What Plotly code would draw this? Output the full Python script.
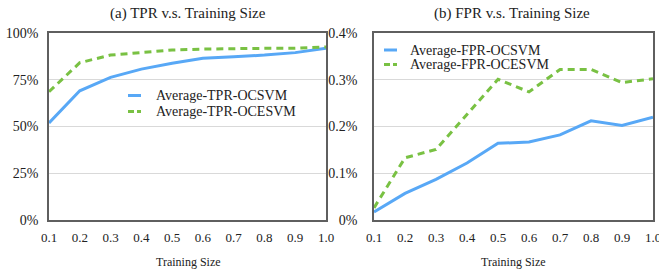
import plotly.graph_objects as go

W, H = 659, 272

train_size = [0.1, 0.2, 0.3, 0.4, 0.5, 0.6, 0.7, 0.8, 0.9, 1.0]
tpr_ocsvm = [51.9, 69.1, 76.3, 80.7, 83.8, 86.5, 87.3, 88.2, 89.5, 91.8]
tpr_ocesvm = [68.6, 84.1, 88.2, 89.5, 90.9, 91.4, 91.8, 91.8, 91.8, 92.5]
fpr_ocsvm = [0.017, 0.057, 0.087, 0.122, 0.164, 0.167, 0.182, 0.212, 0.202, 0.220]
fpr_ocesvm = [0.026, 0.133, 0.151, 0.225, 0.301, 0.274, 0.322, 0.322, 0.294, 0.302]

tpr_ticks = [0, 25, 50, 75, 100]
tpr_ticklabels = ["0%", "25%", "50%", "75%", "100%"]
fpr_ticks = [0, 0.1, 0.2, 0.3, 0.4]
fpr_ticklabels = ["0%", "0.1%", "0.2%", "0.3%", "0.4%"]
x_ticks = train_size
x_ticklabels = ["%.1f" % v for v in train_size]

series_names = ["Average-TPR-OCSVM", "Average-TPR-OCESVM", "Average-FPR-OCSVM", "Average-FPR-OCESVM"]

BLUE = "#58a8f6"
GREEN = "#79c143"
FONT = "Times New Roman, Liberation Serif, Tinos, serif"
FRAME = "#5f5f5f"
GRID = "#d9d9d9"
TXT = "#222"
DASH = "7px,5px"

def px(x):
    return x / W

def py(y):
    return 1 - y / H

fig = go.Figure()

fig.add_trace(go.Scatter(x=train_size, y=tpr_ocsvm, mode="lines", name=series_names[0],
                         line=dict(color=BLUE, width=3), xaxis="x", yaxis="y"))
fig.add_trace(go.Scatter(x=train_size, y=tpr_ocesvm, mode="lines", name=series_names[1],
                         line=dict(color=GREEN, width=3, dash=DASH), xaxis="x", yaxis="y"))
fig.add_trace(go.Scatter(x=train_size, y=fpr_ocsvm, mode="lines", name=series_names[2],
                         line=dict(color=BLUE, width=3), xaxis="x2", yaxis="y2"))
fig.add_trace(go.Scatter(x=train_size, y=fpr_ocesvm, mode="lines", name=series_names[3],
                         line=dict(color=GREEN, width=3, dash=DASH), xaxis="x2", yaxis="y2"))

xcommon = dict(range=[0.1, 1.0], tickvals=x_ticks, ticktext=x_ticklabels, showgrid=False,
               zeroline=False, showline=True, linecolor=FRAME, linewidth=1.5, mirror=True,
               ticks="", ticklabelstandoff=5, tickfont=dict(family=FONT, size=13, color=TXT),
               automargin=False, ticklabeloverflow="allow")
ycommon = dict(showgrid=True, gridcolor=GRID, gridwidth=1, zeroline=False, showline=True,
               linecolor=FRAME, linewidth=1.5, mirror=True, ticks="",
               tickfont=dict(family=FONT, size=14, color=TXT), automargin=False)

# hand-drawn legends (sample line + label), positioned in paper pixels
legend_items = [
    (series_names[0], BLUE, "solid", 128, 141, 154, 95.5),
    (series_names[1], GREEN, "6px,3px", 128, 141, 154, 111.5),
    (series_names[2], BLUE, "solid", 384, 397, 408, 50),
    (series_names[3], GREEN, "6px,3px", 384, 397, 408, 64.5),
]
shapes = []
annotations = []
for name, col, dash, x0, x1, xt, yc in legend_items:
    shapes.append(dict(type="line", xref="paper", yref="paper", x0=px(x0), x1=px(x1),
                       y0=py(yc), y1=py(yc), line=dict(color=col, width=3, dash=dash)))
    annotations.append(dict(text=name, x=px(xt), y=py(yc), xref="paper", yref="paper",
                            showarrow=False, xanchor="left", yanchor="middle",
                            font=dict(family=FONT, size=14, color=TXT)))

for text, xc, yc, size in [("(a) TPR v.s. Training Size", 188, 13, 15),
                           ("(b) FPR v.s. Training Size", 512, 13, 15),
                           ("Training Size", 188, 262, 12),
                           ("Training Size", 513, 262, 12)]:
    annotations.append(dict(text=text, x=px(xc), y=py(yc), xref="paper", yref="paper",
                            showarrow=False, xanchor="center", yanchor="middle",
                            font=dict(family=FONT, size=size, color=TXT)))

fig.update_layout(
    width=W, height=H,
    margin=dict(l=0, r=0, t=0, b=0),
    paper_bgcolor="white", plot_bgcolor="white",
    font=dict(family=FONT, size=14, color=TXT),
    xaxis=dict(domain=[px(49), px(326)], anchor="y", **xcommon),
    yaxis=dict(domain=[py(220), py(33)], anchor="x", range=[0, 100], tickvals=tpr_ticks,
               ticktext=tpr_ticklabels, ticklabelstandoff=6, **ycommon),
    xaxis2=dict(domain=[px(374), px(653)], anchor="y2", **xcommon),
    yaxis2=dict(domain=[py(220), py(33)], anchor="x2", range=[0, 0.4], tickvals=fpr_ticks,
                ticktext=fpr_ticklabels, ticklabelstandoff=12, **ycommon),
    showlegend=False,
    shapes=shapes,
    annotations=annotations,
)

fig.write_html("out.html", config={"displayModeBar": False},
               post_script="document.body.style.margin='0';document.body.style.overflow='hidden';")
